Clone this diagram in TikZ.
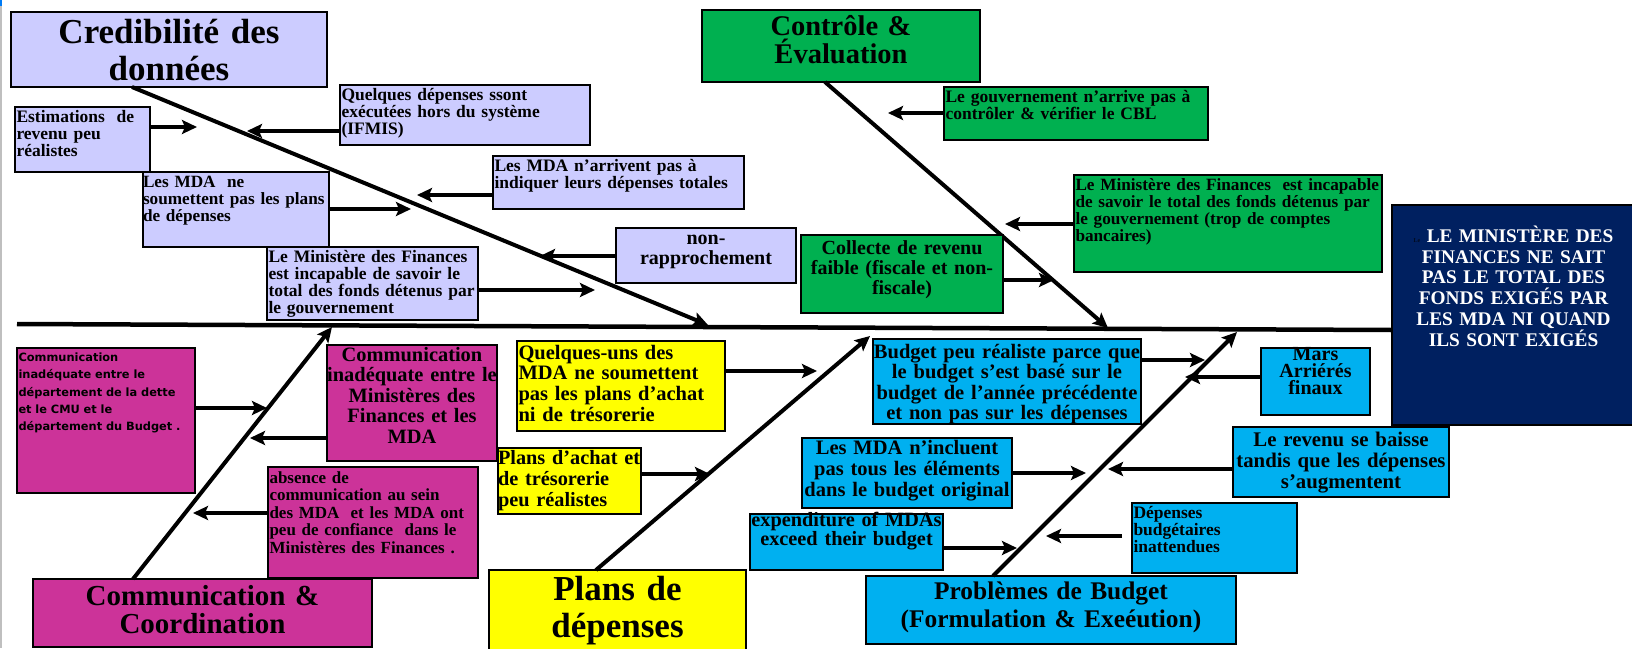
\documentclass[tikz,border=0pt]{standalone}
\usepackage{fontspec}
\setmainfont{Liberation Serif}
\newfontfamily\debtfont{DejaVu Sans}
\usetikzlibrary{arrows.meta}
\definecolor{lav}{HTML}{CCCCFF}
\definecolor{grn}{HTML}{00B050}
\definecolor{mag}{HTML}{CC3399}
\definecolor{yel}{HTML}{FFFF00}
\definecolor{blu}{HTML}{00B0F0}
\definecolor{navy}{HTML}{002060}
\setlength{\lineskiplimit}{-40pt}
\hyphenpenalty=10000
\exhyphenpenalty=10000
\tikzset{
  box/.style={draw=black, line width=1.2pt, anchor=north west,
    inner xsep=1.5pt, inner ysep=0pt, outer sep=0pt},
  cat/.style={box, align=center},
  sized/.style n args={3}{text width=#1pt, text height=#2pt, text depth=#3pt},
  smalltxt/.style={font=\bfseries\fontsize{17.5}{17}\selectfont, align=left},
  midtxt/.style={font=\bfseries\fontsize{20.5}{20.7}\selectfont, align=center},
  bone/.style={line width=4pt, -{Stealth[length=15pt,width=14pt,inset=3pt]}},
  cause/.style={line width=4pt, -{Stealth[length=15pt,width=14pt,inset=3pt]}},
}

\begin{document}
\begin{tikzpicture}[x=1pt, y=-1pt]
\useasboundingbox (0,0) rectangle (1632,648);
% edge of the screenshot
\fill[blu!70!blue] (0,0) rectangle (2,6);
\draw[black!25, line width=2.5pt] (1.2,6) -- (1.2,648);

% effect
\node[box, fill=navy, text=white, sized={240}{37.5}{182.5},
  font=\bfseries\fontsize{19.3}{20.7}\selectfont, align=center] (effect) at (1392,205)
  {{\fontsize{6}{6}\selectfont\color{black!70!navy}Le} LE MINISTÈRE DES\\FINANCES NE SAIT\\PAS LE TOTAL DES\\FONDS EXIGÉS PAR\\LES MDA NI QUAND\\ILS SONT EXIGÉS};
\coordinate (tail) at (17,324);
\draw[line width=4.5pt] (tail) -- ([yshift=-15pt]effect.west);

% categories
\node[cat, fill=lav, sized={313}{31.5}{43.5}, font=\bfseries\fontsize{35}{37}\selectfont] (cred) at (11,12) {Credibilité des\\données};
\node[cat, fill=grn, sized={275}{25}{47}, font=\bfseries\fontsize{28.5}{28}\selectfont] (ctrl) at (702,10) {Contrôle \&\\Évaluation};
\node[cat, fill=mag, sized={336}{26}{42}, font=\bfseries\fontsize{29}{28}\selectfont] (comm) at (33,579) {Communication \&\\Coordination};
\node[cat, fill=yel, sized={254}{30.5}{51.5}, font=\bfseries\fontsize{35}{37}\selectfont] (plans) at (489,570) {Plans de\\dépenses};
\node[cat, fill=blu, sized={367}{23.6}{44.4}, font=\bfseries\fontsize{25.4}{28}\selectfont] (budget) at (866,576) {Problèmes de Budget\\(Formulation \& Exeéution)};

% bones
\coordinate (j-cred) at (708,325);
\coordinate (j-ctrl) at (1108,328);
\coordinate (j-comm) at (332,327);
\coordinate (j-plans) at (870,336);
\coordinate (j-budget) at (1237,332);
\foreach \cat/\anc/\dx in {cred/south/-37, ctrl/south/-16, comm/north/-69.5, plans/north/-21.5, budget/north/-58}
  \draw[bone] ([xshift=\dx]\cat.\anc) -- (j-\cat);

% Credibilite des donnees
\node[box, fill=lav, smalltxt, sized={132}{15}{50}] (estim) at (15,107) {Estimations~~de\\revenu peu\\réalistes};
\node[box, fill=lav, smalltxt, sized={247}{15}{45}] (ifmis) at (340,85) {Quelques dépenses ssont\\exécutées hors du système\\(IFMIS)};
\node[box, fill=lav, smalltxt, inner xsep=0pt, font=\bfseries\fontsize{17.2}{17}\selectfont, sized={186}{15}{60}] (nosubmit) at (143,172) {Les MDA~~ne\\soumettent pas les plans\\de dépenses};
\node[box, fill=lav, smalltxt, sized={248}{15}{38}] (nototal) at (493,156) {Les MDA n'arrivent pas à\\indiquer leurs dépenses totales};
\node[box, fill=lav, smalltxt, sized={208}{15}{58}] (mofunds) at (267,247) {Le Ministère des Finances\\est incapable de savoir le\\total des fonds détenus par\\le gouvernement};
\node[box, fill=lav, midtxt, font=\bfseries\fontsize{20}{20}\selectfont, sized={177}{16}{39}] (nonrec) at (616,228) {non-\\rapprochement};

% Controle & Evaluation
\node[box, fill=grn, smalltxt, sized={261}{15}{38}] (govctrl) at (944,87) {Le gouvernement n'arrive pas à\\contrôler \& vérifier le CBL};
\node[box, fill=grn, smalltxt, font=\bfseries\fontsize{17.2}{17.3}\selectfont, sized={305}{15}{82}] (mofacc) at (1074,175) {Le Ministère des Finances~~est incapable\\de savoir le total des fonds détenus par\\le gouvernement (trop de comptes\\bancaires)};
\node[box, fill=grn, midtxt, font=\bfseries\fontsize{20}{20}\selectfont, sized={199}{19}{59}] (lowrev) at (801,235) {Collecte de revenu\\faible (fiscale et non-\\fiscale)};

% Communication & Coordination
\node[box, fill=mag, align=left, font=\debtfont\bfseries\fontsize{11.4}{17.3}\selectfont, sized={175}{13.5}{131.5}] (commdebt) at (17,348) {Communication\\inadéquate entre le\\département de la dette\\et le CMU et le\\département du Budget .};
\node[box, fill=mag, midtxt, inner xsep=-6pt, font=\bfseries\fontsize{20.4}{20.6}\selectfont, sized={182}{16}{100}] (commmof) at (327,345) {Communication\\inadéquate entre le\\Ministères des\\Finances et les\\MDA};
\node[box, fill=mag, smalltxt, font=\bfseries\fontsize{17}{17.5}\selectfont, sized={207}{16}{95}] (absence) at (268,467) {absence de\\communication au sein\\des MDA~~et les MDA ont\\peu de confiance~~dans le\\Ministères des Finances .};

% Plans de depenses
\node[box, fill=yel, midtxt, align=left, sized={205}{18}{72}] (somemda) at (517,341) {Quelques-uns des\\MDA ne soumettent\\pas les plans d'achat\\ni de trésorerie};
\node[box, fill=yel, midtxt, align=left, inner xsep=0pt, font=\bfseries\fontsize{20.3}{21}\selectfont, sized={143}{16}{50}] (unreal) at (498,448) {Plans d'achat et\\de trésorerie\\peu réalistes};

% Problemes de Budget
\node[box, fill=blu, midtxt, inner xsep=-6pt, font=\bfseries\fontsize{20.5}{20.5}\selectfont, sized={280}{19}{66}] (prevbudget) at (873,339) {Budget peu réaliste parce que\\le budget s'est basé sur le\\budget de l'année précédente\\et non pas sur les dépenses};
\node[box, fill=blu, midtxt, font=\bfseries\fontsize{20}{17}\selectfont, sized={106}{12.5}{54.5}] (arrears) at (1261,348) {Mars\\Arriérés\\finaux};
\node[box, fill=blu, midtxt, font=\bfseries\fontsize{20.8}{21}\selectfont, sized={213}{19}{51}] (revfall) at (1233,427) {Le revenu se baisse\\tandis que les dépenses\\s'augmentent};
\node[box, fill=blu, midtxt, font=\bfseries\fontsize{20.5}{21}\selectfont, sized={207}{16}{54}] (noitems) at (802,438) {Les MDA n'incluent\\pas tous les éléments\\dans le budget original};
\node[box, fill=blu, midtxt, inner xsep=-6pt, font=\bfseries\fontsize{20.3}{17}\selectfont, sized={205}{12}{44}] (overspend) at (750,514) {expenditure of MDAs\\exceed their budget};
\node[box, fill=blu, smalltxt, sized={162}{15}{55}] (unexpected) at (1132,503) {Dépenses\\budgétaires\\inattendues};

% cause arrows
\foreach \nm/\x/\y in {t-estim/197/127, t-ifmis/247/131, t-nosubmit/411/209, t-nototal/417/195,
    t-mofunds/595/290, t-nonrec/540/256, t-govctrl/888/113, t-mofacc/1005/224, t-lowrev/1054/280,
    t-commdebt/267/408, t-commmof/250/438, t-absence/193/513, t-somemda/817/371, t-unreal/710/474,
    t-prevbudget/1205/360, t-arrears/1185/377, t-revfall/1108/469, t-noitems/1086/473,
    t-overspend/1017/548, t-unexpected/1046/536}
  \coordinate (\nm) at (\x,\y);
\foreach \src/\sd in {estim/east, ifmis/west, nosubmit/east, nototal/west, mofunds/east, nonrec/west,
    govctrl/west, mofacc/west, lowrev/east, commdebt/east, commmof/west, absence/west,
    somemda/east, unreal/east, prevbudget/east, arrears/west, revfall/west, noitems/east, overspend/east}
  \draw[cause] (t-\src -| \src.\sd) -- (t-\src);
\draw[cause, shorten <=10pt] (t-unexpected -| unexpected.west) -- (t-unexpected);
\end{tikzpicture}
\end{document}
